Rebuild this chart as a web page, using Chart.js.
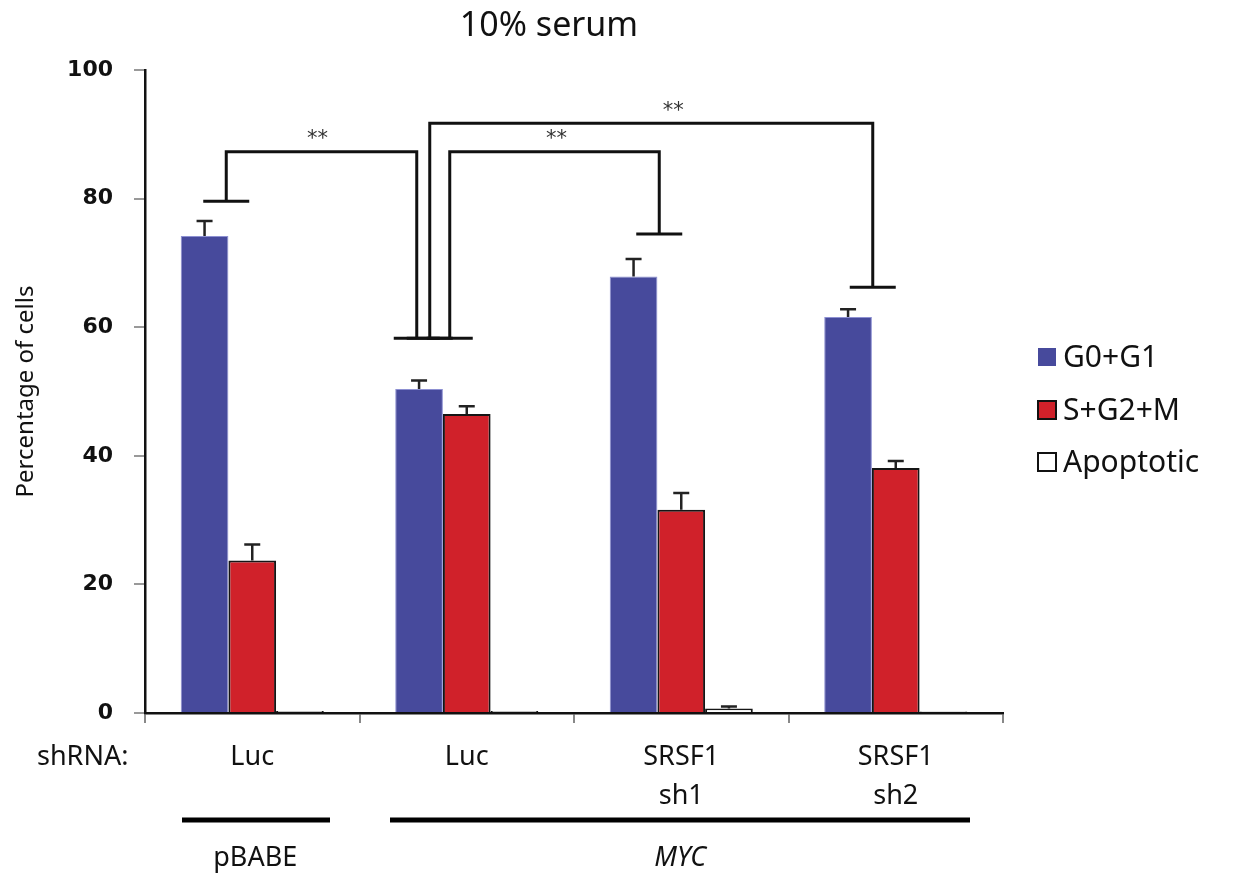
<!DOCTYPE html>
<html lang="en">
<head>
<meta charset="UTF-8">
<title>10% serum</title>
<script src="https://cdn.jsdelivr.net/npm/chart.js"></script>
<style>
  body { margin: 0; background: #fff; }
  #chart { display: block; }
</style>
</head>
<body>
<canvas id="chart" width="1237" height="873"></canvas>
<script>
// values (% of cells)
const shRNA = ["Luc", "Luc", ["SRSF1", "sh1"], ["SRSF1", "sh2"]];
const seriesNames = ["G0+G1", "S+G2+M", "Apoptotic"];
const g0g1 = [74.2, 50.4, 67.9, 61.6];
const g0g1Err = [2.3, 1.3, 2.7, 1.2];
const sg2m = [23.7, 46.5, 31.6, 38.1];
const sg2mErr = [2.5, 1.2, 2.6, 1.1];
const apoptotic = [0.3, 0.3, 0.7, 0.25];
const apoptoticErr = [0, 0, 0.3, 0];
const yTicks = [0, 20, 40, 60, 80, 100];

// ** brackets: from/to category, bracket level and end levels (in %)
const sigFrom = [0, 1, 1];
const sigTo = [1, 2, 3];
const sigTop = [87.3, 87.3, 91.7];
const sigFromEnd = [79.6, 58.3, 58.3];
const sigToEnd = [58.3, 74.5, 66.2];
const sigLabel = ["**", "**", "**"];

// vector groups under the axis
const groupNames = ["pBABE", "MYC"];

// where the bracket legs sit relative to the category centre (px)
const sigFromDx = [-26, -17, -37];
const sigToDx = [-50, -22, -23];
const sigStarDx = [-4, 2, 22];

const FONT = "'Noto Sans', sans-serif";

const extras = {
    id: "extras",
    afterDatasetsDraw(chart) {
        const ctx = chart.ctx;
        const y = chart.scales.y;
        ctx.save();
        ctx.strokeStyle = "#222";
        ctx.lineWidth = 2.5;
        chart.data.datasets.forEach((ds, i) => {
            chart.getDatasetMeta(i).data.forEach((bar, j) => {
                const e = ds.err[j];
                if (!e) return;
                const top = y.getPixelForValue(ds.data[j] + e);
                ctx.beginPath();
                ctx.moveTo(bar.x, bar.y);
                ctx.lineTo(bar.x, top);
                ctx.moveTo(bar.x - 8, top);
                ctx.lineTo(bar.x + 8, top);
                ctx.stroke();
            });
        });
        ctx.restore();
    },
    afterDraw(chart) {
        const ctx = chart.ctx;
        const x = chart.scales.x, y = chart.scales.y;
        ctx.save();

        // title
        ctx.fillStyle = "#111";
        ctx.textAlign = "center";
        ctx.textBaseline = "middle";
        ctx.font = "34px " + FONT;
        ctx.fillText("10% serum", 549, 26);

        // significance brackets
        ctx.strokeStyle = "#111";
        ctx.lineWidth = 3;
        for (let k = 0; k < sigFrom.length; k++) {
            const x1 = x.getPixelForValue(sigFrom[k]) + sigFromDx[k];
            const x2 = x.getPixelForValue(sigTo[k]) + sigToDx[k];
            const yt = y.getPixelForValue(sigTop[k]);
            const y1 = y.getPixelForValue(sigFromEnd[k]);
            const y2 = y.getPixelForValue(sigToEnd[k]);
            ctx.beginPath();
            ctx.moveTo(x1, y1);
            ctx.lineTo(x1, yt);
            ctx.lineTo(x2, yt);
            ctx.lineTo(x2, y2);
            ctx.moveTo(x1 - 23, y1); ctx.lineTo(x1 + 23, y1);
            ctx.moveTo(x2 - 23, y2); ctx.lineTo(x2 + 23, y2);
            ctx.stroke();
            ctx.fillStyle = "#333";
            ctx.font = "21px 'DejaVu Sans', sans-serif";
            ctx.fillText(sigLabel[k], (x1 + x2) / 2 + sigStarDx[k], yt - 12);
        }

        // shRNA row label
        ctx.fillStyle = "#111";
        ctx.font = "27px " + FONT;
        ctx.textAlign = "left";
        ctx.fillText("shRNA:", 37, 757);

        // group bars and names
        const c = [0, 1, 2, 3].map(i => x.getPixelForValue(i));
        ctx.lineWidth = 5;
        ctx.strokeStyle = "#000";
        ctx.beginPath();
        ctx.moveTo(182, 820); ctx.lineTo(330, 820);
        ctx.moveTo(390, 820); ctx.lineTo(970, 820);
        ctx.stroke();
        ctx.textAlign = "center";
        ctx.fillText(groupNames[0], c[0] + 3, 858);
        ctx.font = "italic 27px " + FONT;
        ctx.fillText(groupNames[1], (c[2] + c[1] + c[3]) / 3 - 1, 858);

        // legend
        ctx.font = "30px " + FONT;
        ctx.textAlign = "left";
        const ly = [357, 410, 462];
        chart.data.datasets.forEach((ds, i) => {
            ctx.fillStyle = ds.backgroundColor;
            ctx.fillRect(1038, ly[i] - 9, 18, 18);
            if (i > 0) {
                ctx.lineWidth = 2;
                ctx.strokeStyle = "#111";
                ctx.strokeRect(1038, ly[i] - 9, 18, 18);
            }
            ctx.fillStyle = "#111";
            ctx.fillText(ds.label, 1063, ly[i] + 1);
        });
        ctx.restore();
    }
};

new Chart(document.getElementById("chart"), {
    type: "bar",
    data: {
        labels: shRNA,
        datasets: [
            { label: seriesNames[0], data: g0g1, err: g0g1Err, backgroundColor: "#474a9c", borderColor: "#8d90d2", borderWidth: 1 },
            { label: seriesNames[1], data: sg2m, err: sg2mErr, backgroundColor: "#d0212a", borderColor: "#151515", borderWidth: 2 },
            { label: seriesNames[2], data: apoptotic, err: apoptoticErr, backgroundColor: "#ffffff", borderColor: "#151515", borderWidth: 2 }
        ]
    },
    options: {
        responsive: false,
        animation: false,
        categoryPercentage: 0.667,
        barPercentage: 1.0,
        layout: { padding: { top: 70, right: 234, bottom: 60, left: 0 } },
        plugins: {
            legend: { display: false },
            tooltip: { enabled: false }
        },
        scales: {
            x: {
                afterFit: s => { s.height = 100; },
                border: { display: true, color: "#111", width: 2.5 },
                grid: { drawOnChartArea: false, tickLength: 10, color: "#888", lineWidth: 2 },
                ticks: { color: "#111", padding: 15, font: { family: FONT, size: 27, lineHeight: 1.45 } }
            },
            y: {
                min: 0,
                max: 100,
                afterFit: s => { s.width = 145; },
                afterBuildTicks: s => { s.ticks = yTicks.map(v => ({ value: v })); },
                border: { display: true, color: "#111", width: 2.5 },
                grid: { drawOnChartArea: false, tickLength: 11, color: "#999", lineWidth: 2 },
                ticks: { color: "#111", padding: 21, font: { family: "'DejaVu Sans', sans-serif", size: 22, weight: "bold" } },
                title: {
                    display: true,
                    text: "Percentage of cells",
                    color: "#111",
                    padding: { top: 12, bottom: 0 },
                    font: { family: FONT, size: 24 }
                }
            }
        }
    },
    plugins: [extras]
});
</script>
</body>
</html>
